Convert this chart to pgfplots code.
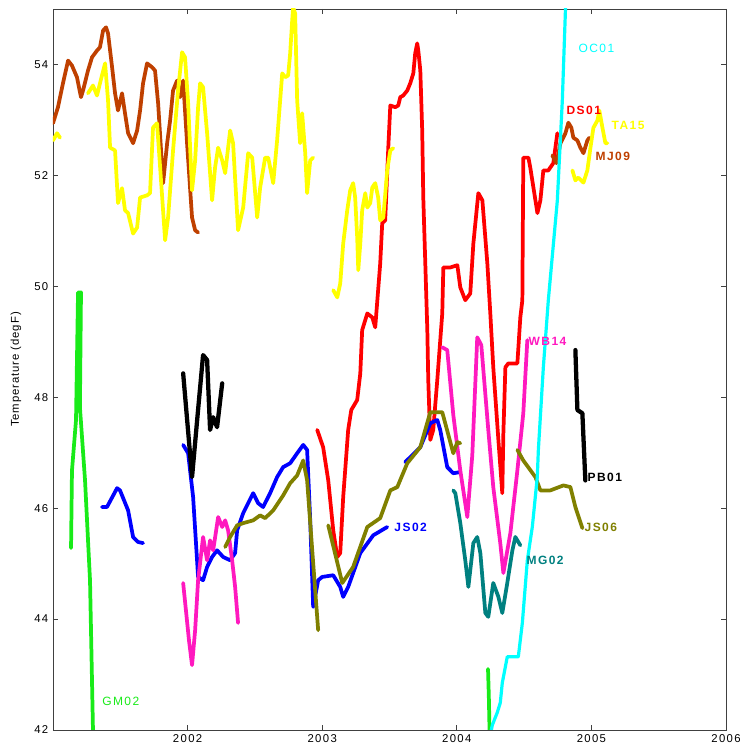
\documentclass[border=0pt]{standalone}
\usepackage{fontspec}
\setmainfont{Liberation Sans}
\newfontfamily\lblA[LetterSpace=12]{Liberation Sans}
\newfontfamily\lblB[LetterSpace=8]{Liberation Sans}
\usepackage{pgfplots}
\pgfplotsset{compat=1.18}
\usetikzlibrary{calc}
\definecolor{cYel}{rgb}{1,1,0}
\definecolor{cRed}{rgb}{1,0,0}
\definecolor{cBrn}{rgb}{0.75,0.25,0}
\definecolor{cGrn}{rgb}{0.1,0.92,0.1}
\definecolor{cCya}{rgb}{0,1,1}
\definecolor{cBlu}{rgb}{0,0,1}
\definecolor{cOli}{rgb}{0.5,0.5,0}
\definecolor{cMag}{rgb}{1,0.1,0.75}
\definecolor{cTea}{rgb}{0,0.5,0.5}
\begin{document}
\begin{tikzpicture}
\begin{axis}[name=ax,
  scale only axis, width=504.75pt, height=540.75pt,
  xmin=2001, xmax=2006, ymin=42, ymax=55,
  xtick={2002,2003,2004,2005,2006},
  ytick={42,44,46,48,50,52,54},
  /pgf/number format/1000 sep={},
  /pgf/number format/assume math mode=true,
  tick label style={font=\lblA\fontsize{8.5}{9}\selectfont},
  ylabel={Temperature (degF)},
  ylabel style={font=\lblB\fontsize{8.5}{9}\selectfont, yshift=3pt},
  axis line style={black!75, line width=0.6pt},
  major tick length=4pt,
  tick style={black!75, line width=0.6pt},
  every axis plot/.append style={line join=round, line cap=round, line width=2.8pt},
  clip=true,
]
% DS01 red
\addplot[cRed] coordinates {
(2002.963,47.41)(2003.007,47.10)(2003.045,46.50)(2003.082,45.60)(2003.112,45.12)(2003.134,45.19)(2003.156,46.20)(2003.193,47.41)(2003.216,47.77)(2003.260,47.95)(2003.283,48.43)(2003.297,49.21)(2003.335,49.51)(2003.372,49.44)(2003.394,49.26)(2003.431,50.41)(2003.446,51.14)(2003.468,51.19)(2003.491,52.50)(2003.506,53.26)(2003.543,53.23)(2003.565,53.26)(2003.580,53.41)(2003.602,53.44)(2003.632,53.53)(2003.654,53.66)(2003.677,53.84)(2003.691,54.20)(2003.706,54.38)(2003.714,54.25)(2003.729,53.89)(2003.743,52.81)(2003.751,51.60)(2003.766,50.41)(2003.781,49.21)(2003.788,48.31)(2003.803,47.23)(2003.825,47.41)(2003.855,48.31)(2003.892,49.51)(2003.900,50.34)(2003.952,50.34)(2004.004,50.38)(2004.026,49.98)(2004.063,49.75)(2004.100,49.87)(2004.123,50.77)(2004.160,51.68)(2004.190,51.55)(2004.227,50.41)(2004.249,49.51)(2004.271,48.54)(2004.309,47.23)(2004.338,46.27)(2004.346,47.35)(2004.361,48.54)(2004.383,48.61)(2004.450,48.61)(2004.472,49.44)(2004.487,49.75)(2004.494,52.32)(2004.532,52.32)(2004.546,52.14)(2004.599,51.32)(2004.621,51.55)(2004.643,52.09)(2004.680,52.09)(2004.717,52.22)(2004.747,52.76)
};
% MJ09 brown
\addplot[cBrn] coordinates {
(2001.0,52.94)(2001.037,53.23)(2001.074,53.66)(2001.112,54.07)(2001.141,53.98)(2001.178,53.77)(2001.208,53.41)(2001.223,53.53)(2001.260,53.89)(2001.290,54.13)(2001.327,54.25)(2001.349,54.31)(2001.372,54.61)(2001.394,54.67)(2001.409,54.56)(2001.439,53.95)(2001.461,53.48)(2001.483,53.17)(2001.513,53.48)(2001.535,53.12)(2001.558,52.76)(2001.595,52.58)(2001.625,52.81)(2001.647,53.17)(2001.669,53.66)(2001.699,54.02)(2001.736,53.95)(2001.758,53.89)(2001.781,53.30)(2001.818,51.86)(2001.848,52.58)(2001.870,52.99)(2001.892,53.53)(2001.922,53.71)(2001.944,53.41)(2001.967,53.71)(2001.996,52.58)(2002.033,51.24)(2002.056,51.01)(2002.078,50.97)
};
\addplot[cBrn] coordinates {
(2004.710,52.36)(2004.740,52.22)(2004.770,52.58)(2004.807,52.76)(2004.829,52.95)(2004.851,52.86)(2004.866,52.68)(2004.896,52.63)(2004.918,52.50)(2004.941,52.40)(2004.970,52.63)(2004.985,52.68)
};
% JS02 blue
\addplot[cBlu] coordinates {
(2001.364,46.02)(2001.401,46.02)(2001.476,46.36)(2001.498,46.32)(2001.558,45.96)(2001.595,45.48)(2001.632,45.39)(2001.669,45.37)
};
\addplot[cBlu] coordinates {
(2001.967,47.14)(2002.004,46.99)(2002.041,46.20)(2002.078,44.76)(2002.115,44.70)(2002.145,44.94)(2002.182,45.12)(2002.219,45.24)(2002.264,45.12)(2002.316,45.06)(2002.353,45.19)(2002.368,45.60)(2002.413,45.91)(2002.450,46.09)(2002.487,46.27)(2002.524,46.09)(2002.561,46.02)(2002.613,46.27)(2002.665,46.56)(2002.710,46.74)(2002.762,46.81)(2002.814,46.99)(2002.859,47.14)(2002.888,47.05)(2002.911,45.78)(2002.933,44.22)(2002.970,44.70)(2003.0,44.76)(2003.082,44.79)(2003.134,44.58)(2003.156,44.40)(2003.193,44.58)(2003.283,45.19)(2003.379,45.51)(2003.483,45.66)
};
\addplot[cBlu] coordinates {
(2003.617,46.83)(2003.729,47.10)(2003.803,47.53)(2003.855,47.59)(2003.877,47.41)(2003.929,46.74)(2003.974,46.63)(2004.026,46.65)
};
% WB14 magenta
\addplot[cMag] coordinates {
(2001.967,44.65)(2002.011,43.60)(2002.033,43.17)(2002.056,43.80)(2002.078,44.70)(2002.115,45.48)(2002.145,45.06)(2002.167,45.42)(2002.190,45.24)(2002.227,45.84)(2002.257,45.66)(2002.279,45.78)(2002.301,45.60)(2002.331,45.06)(2002.353,44.58)(2002.375,43.93)
};
\addplot[cMag] coordinates {
(2003.892,48.90)(2003.929,48.85)(2003.974,47.68)(2004.026,46.68)(2004.078,45.84)(2004.115,46.95)(2004.152,49.08)(2004.182,48.94)(2004.234,47.41)(2004.271,46.38)(2004.323,45.37)(2004.346,44.83)(2004.398,45.55)(2004.450,46.68)(2004.494,47.71)(2004.524,49.03)
};
% JS06 olive
\addplot[cOli] coordinates {
(2002.279,45.30)(2002.316,45.48)(2002.368,45.69)(2002.413,45.73)(2002.487,45.78)(2002.539,45.87)(2002.576,45.82)(2002.636,45.96)(2002.710,46.23)(2002.762,46.45)(2002.814,46.59)(2002.859,46.86)(2002.888,46.50)(2002.933,45.01)(2002.970,43.80)
};
\addplot[cOli] coordinates {
(2003.045,45.69)(2003.149,44.65)(2003.230,44.94)(2003.335,45.66)(2003.431,45.82)(2003.506,46.32)(2003.558,46.38)(2003.632,46.81)(2003.729,47.10)(2003.803,47.73)(2003.892,47.73)(2003.974,46.99)(2004.004,47.19)(2004.026,47.17)
};
\addplot[cOli] coordinates {
(2004.450,47.05)(2004.494,46.86)(2004.584,46.56)(2004.621,46.32)(2004.695,46.32)(2004.792,46.41)(2004.844,46.38)(2004.881,46.02)(2004.933,45.64)
};
% TA15 yellow
\addplot[cYel] coordinates {
(2001.0,52.63)(2001.030,52.76)(2001.052,52.68)
};
\addplot[cYel] coordinates {
(2001.260,53.48)(2001.297,53.62)(2001.327,53.44)(2001.349,53.66)(2001.387,54.02)(2001.409,53.35)(2001.424,52.50)(2001.461,52.45)(2001.483,51.50)(2001.513,51.77)(2001.535,51.37)(2001.558,51.32)(2001.595,50.95)(2001.625,51.06)(2001.647,51.60)(2001.699,51.64)(2001.721,51.68)(2001.743,52.86)(2001.773,52.94)(2001.796,52.14)(2001.833,50.83)(2001.855,51.24)(2001.892,52.45)(2001.929,53.53)(2001.959,54.22)(2001.981,54.13)(2002.004,53.30)(2002.033,51.73)(2002.056,52.27)(2002.078,53.23)(2002.093,53.66)(2002.115,53.59)(2002.145,52.76)(2002.182,51.55)(2002.204,52.14)(2002.227,52.50)(2002.257,52.27)(2002.279,52.04)(2002.316,52.81)(2002.338,52.58)(2002.375,51.01)(2002.413,51.42)(2002.450,52.40)(2002.480,52.32)(2002.517,51.24)(2002.539,51.78)(2002.576,52.32)(2002.599,52.32)(2002.636,51.86)(2002.665,52.63)(2002.703,53.84)(2002.725,53.77)(2002.747,53.80)(2002.762,54.20)(2002.777,54.79)(2002.784,55.03)(2002.799,54.92)(2002.814,53.35)(2002.836,52.58)(2002.851,53.12)(2002.874,52.40)(2002.888,51.68)(2002.911,52.27)(2002.933,52.32)
};
\addplot[cYel] coordinates {
(2003.082,49.93)(2003.112,49.80)(2003.134,50.05)(2003.156,50.77)(2003.186,51.37)(2003.208,51.73)(2003.230,51.86)(2003.245,51.60)(2003.260,50.88)(2003.268,50.29)(2003.283,50.77)(2003.297,51.37)(2003.320,51.68)(2003.335,51.42)(2003.357,51.50)(2003.372,51.78)(2003.394,51.86)(2003.416,51.60)(2003.431,51.19)(2003.454,51.24)(2003.483,52.09)(2003.506,52.45)(2003.528,52.49)
};
\addplot[cYel] coordinates {
(2004.859,52.09)(2004.881,51.91)(2004.903,51.96)(2004.941,51.87)(2004.970,52.09)(2004.993,52.50)(2005.015,52.86)(2005.045,52.99)(2005.059,53.17)(2005.082,52.86)(2005.104,52.58)(2005.119,52.58)
};
% MG02 teal
\addplot[cTea] coordinates {
(2003.974,46.32)(2003.989,46.27)(2004.026,45.73)(2004.063,45.06)(2004.086,44.58)(2004.123,45.37)(2004.152,45.48)(2004.175,45.19)(2004.212,44.11)(2004.234,44.04)(2004.271,44.65)(2004.309,44.40)(2004.338,44.11)(2004.375,44.65)(2004.413,45.24)(2004.435,45.48)(2004.472,45.33)
};
% PB01 black
\addplot[black, line width=3.2pt] coordinates {
(2001.967,48.43)(2002.033,46.56)(2002.071,47.59)(2002.115,48.76)(2002.145,48.67)(2002.167,47.41)(2002.190,47.64)(2002.219,47.46)(2002.257,48.25)
};
\addplot[black, line width=3.2pt] coordinates {
(2004.881,48.85)(2004.896,47.77)(2004.933,47.71)(2004.955,46.50)
};
% GM02 green
\addplot[cGrn] coordinates {
(2001.134,45.28)(2001.141,46.68)(2001.171,47.59)(2001.186,49.89)(2001.208,49.89)(2001.200,47.82)(2001.238,46.50)(2001.275,44.70)(2001.297,42.0)(2001.300,41.8)
};
\addplot[cGrn] coordinates {
(2004.232,43.10)(2004.238,42.60)(2004.245,41.80)
};
% OC01 cyan
\addplot[cCya, line width=2.4pt] coordinates {
(2004.249,41.91)(2004.264,42.09)(2004.300,42.31)(2004.323,42.49)(2004.338,42.85)(2004.375,43.32)(2004.457,43.32)(2004.487,43.93)(2004.524,45.06)(2004.561,45.66)(2004.598,46.56)(2004.606,47.05)(2004.643,48.54)(2004.680,49.75)(2004.747,51.55)(2004.784,53.35)(2004.807,54.97)(2004.820,55.5)
};
% labels
\begin{scope}[every node/.style={anchor=west, inner sep=0pt, font=\lblA\fontsize{9}{10}\selectfont\bfseries}]
\node[text=cCya, font=\lblA\fontsize{9}{10}\selectfont] at (axis cs:2004.903,54.29) {OC01};
\node[text=cRed] at (axis cs:2004.814,53.17) {DS01};
\node[text=cYel] at (axis cs:2005.149,52.90) {TA15};
\node[text=cBrn] at (axis cs:2005.030,52.34) {MJ09};
\node[text=cMag] at (axis cs:2004.532,49.01) {WB14};
\node[text=black] at (axis cs:2004.970,46.56) {PB01};
\node[text=cOli] at (axis cs:2004.948,45.66) {JS06};
\node[text=cTea] at (axis cs:2004.517,45.05) {MG02};
\node[text=cBlu] at (axis cs:2003.535,45.66) {JS02};
\node[text=cGrn, font=\lblA\fontsize{9}{10}\selectfont] at (axis cs:2001.364,42.52) {GM02};
\end{scope}
\end{axis}
\pgfresetboundingbox
\useasboundingbox ($(ax.south west)+(-39.75pt,-12pt)$) rectangle ($(ax.north east)+(10.5pt,6.75pt)$);
\end{tikzpicture}
\end{document}
